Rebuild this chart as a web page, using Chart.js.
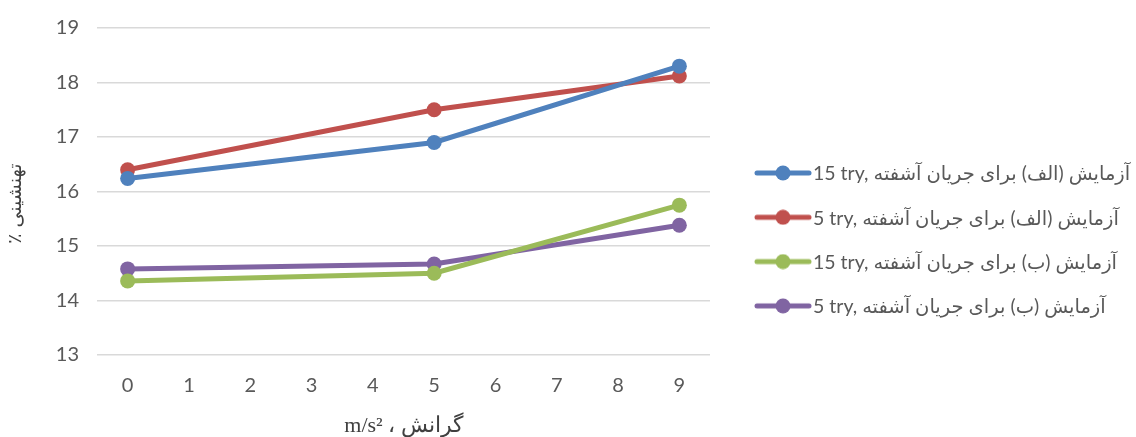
<!DOCTYPE html>
<html>
<head>
<meta charset="utf-8">
<script src="https://cdn.jsdelivr.net/npm/chart.js@4/dist/chart.umd.min.js"></script>
<style>
  body { margin: 0; background: #fff; }
  #wrap { width: 1136px; height: 437px; }
</style>
</head>
<body>
<div id="wrap"><canvas id="myChart" width="1136" height="437"></canvas></div>
<script>
// data
const categories = ["0", "1", "2", "3", "4", "5", "6", "7", "8", "9"];
const seriesNames = [
  "15 try, آزمایش (الف) برای جریان آشفته",
  "5 try, آزمایش (الف) برای جریان آشفته",
  "15 try, آزمایش (ب) برای جریان آشفته",
  "5 try, آزمایش (ب) برای جریان آشفته"
];
const alef15 = [16.24, null, null, null, null, 16.9, null, null, null, 18.3];
const alef5 = [16.4, null, null, null, null, 17.5, null, null, null, 18.12];
const be15 = [14.36, null, null, null, null, 14.5, null, null, null, 15.75];
const be5 = [14.58, null, null, null, null, 14.67, null, null, null, 15.38];
const yTicks = [13, 14, 15, 16, 17, 18, 19];

const colors = ["#4f81bd", "#c0504d", "#9bbb59", "#8064a2"];
const font = "Lato, 'DejaVu Sans', sans-serif";

// legend marker: line with a dot in the middle
function marker(color) {
  var c = document.createElement("canvas");
  c.width = 58;
  c.height = 16;
  var g = c.getContext("2d");
  g.strokeStyle = color;
  g.lineWidth = 5;
  g.lineCap = "round";
  g.beginPath();
  g.moveTo(3, 8);
  g.lineTo(55, 8);
  g.stroke();
  g.fillStyle = color;
  g.beginPath();
  g.arc(29, 8, 7.5, 0, Math.PI * 2);
  g.fill();
  return c;
}
const markers = colors.map(marker);

// legend drawn by hand, the built-in one gets squeezed on the right
const sideLegend = {
  id: "sideLegend",
  afterDraw: function (chart) {
    var g = chart.ctx;
    var a = chart.chartArea;
    g.save();
    g.font = "19.5px " + font;
    g.fillStyle = "#595959";
    g.textBaseline = "middle";
    g.textAlign = "left";
    chart.data.datasets.forEach(function (ds, i) {
      var y = a.top + 145 + i * 44.3;
      g.drawImage(markers[i], a.right + 44, y - 8);
      g.fillText(ds.label, a.right + 103, y + 1);
    });
    g.restore();
  }
};

function makeSet(i, values) {
  return {
    label: seriesNames[i],
    data: values,
    borderColor: colors[i],
    backgroundColor: colors[i],
    borderWidth: 5,
    pointRadius: 7.5,
    pointHoverRadius: 7.5,
    pointBorderWidth: 0,
    spanGaps: true,
    tension: 0
  };
}

const ctx = document.getElementById("myChart");
const myChart = new Chart(ctx, {
  type: "line",
  data: {
    labels: categories,
    datasets: [makeSet(0, alef15), makeSet(1, alef5), makeSet(2, be15), makeSet(3, be5)]
  },
  plugins: [sideLegend],
  options: {
    responsive: false,
    animation: false,
    layout: { padding: { top: 8, right: 426, bottom: 0, left: 5 } },
    plugins: {
      tooltip: { enabled: false },
      legend: { display: false }
    },
    scales: {
      x: {
        offset: true,
        grid: { display: false },
        border: { display: false },
        ticks: { font: { family: font, size: 20, lineHeight: 1 }, color: "#595959", padding: 13 },
        title: {
          display: true,
          text: "m/s² ، گرانش",
          font: { family: "'Liberation Serif', serif", size: 22, lineHeight: 1 },
          color: "#404040",
          padding: { top: 6, bottom: 0 }
        }
      },
      y: {
        min: 13,
        max: 19,
        afterBuildTicks: function (axis) {
          axis.ticks = yTicks.map(function (v) { return { value: v }; });
        },
        grid: { color: "#d9d9d9", lineWidth: 1.5, drawTicks: false },
        border: { display: false },
        ticks: { font: { family: font, size: 20, lineHeight: 1 }, color: "#595959", padding: 18 },
        title: {
          display: true,
          text: "٪ تهنشینی    ",
          font: { family: "'DejaVu Sans', sans-serif", size: 19 },
          color: "#404040",
          padding: { top: 0, bottom: 10 }
        }
      }
    }
  }
});
</script>
</body>
</html>
